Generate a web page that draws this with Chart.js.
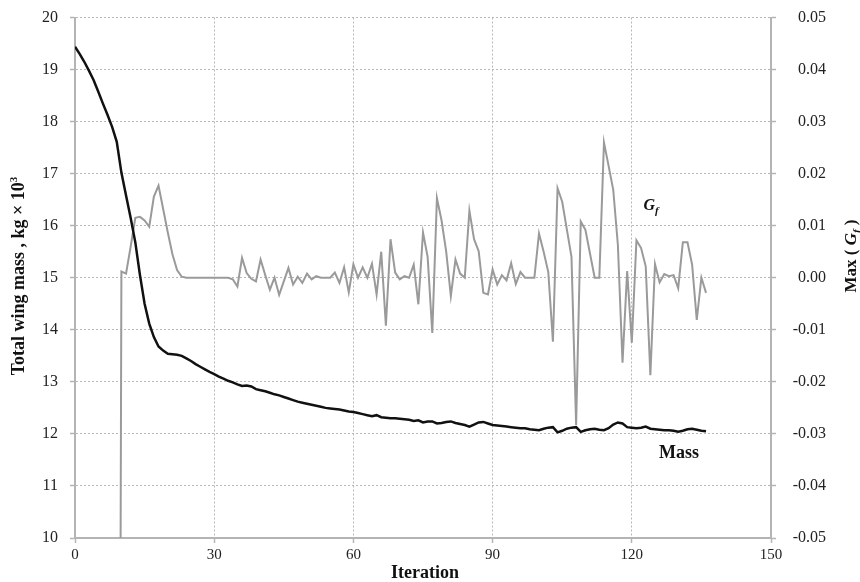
<!DOCTYPE html>
<html>
<head>
<meta charset="utf-8">
<script src="https://cdn.jsdelivr.net/npm/chart.js@4.4.1/dist/chart.umd.min.js"></script>
<style>
  html, body { margin: 0; padding: 0; background: #fff; }
</style>
</head>
<body>
<canvas id="massChart" width="860" height="582"></canvas>
<script>
// tick labels
const xTicks = [0, 30, 60, 90, 120, 150];
const massTicks = [10, 11, 12, 13, 14, 15, 16, 17, 18, 19, 20];
const gfTicks = [-0.05, -0.04, -0.03, -0.02, -0.01, 0, 0.01, 0.02, 0.03, 0.04, 0.05];

// total wing mass (kg x 10^3), iterations 0..136
const massStart = 0;
const massValues = [
  19.44, 19.30, 19.15, 18.98, 18.80, 18.58, 18.35, 18.13, 17.90, 17.61,
  17.02, 16.58, 16.15, 15.68, 15.05, 14.50, 14.12, 13.86, 13.68, 13.60,
  13.54, 13.53, 13.52, 13.50, 13.45, 13.40, 13.34, 13.29, 13.24, 13.19,
  13.15, 13.10, 13.06, 13.02, 12.99, 12.95, 12.92, 12.93, 12.91, 12.86,
  12.84, 12.82, 12.79, 12.76, 12.74, 12.71, 12.68, 12.65, 12.62, 12.60,
  12.58, 12.56, 12.54, 12.52, 12.50, 12.49, 12.48, 12.47, 12.45, 12.43,
  12.42, 12.40, 12.38, 12.36, 12.34, 12.36, 12.32, 12.31, 12.30, 12.30,
  12.29, 12.28, 12.27, 12.25, 12.26, 12.22, 12.24, 12.24, 12.20, 12.21,
  12.23, 12.24, 12.21, 12.19, 12.17, 12.14, 12.18, 12.22, 12.23, 12.20,
  12.17, 12.16, 12.15, 12.14, 12.13, 12.12, 12.11, 12.11, 12.09, 12.08,
  12.07, 12.10, 12.12, 12.13, 12.03, 12.06, 12.10, 12.12, 12.13, 12.04,
  12.07, 12.09, 12.10, 12.08, 12.07, 12.11, 12.18, 12.22, 12.20, 12.13,
  12.12, 12.11, 12.12, 12.14, 12.10, 12.09, 12.08, 12.07, 12.07, 12.06,
  12.04, 12.06, 12.09, 12.10, 12.08, 12.06, 12.05
];

// Max(Gf), iterations 9..136 (first value lies far below the axis)
const gfStart = 9;
const gfValues = [
  -0.3,
  0.0012, 0.0008, 0.0060, 0.0115, 0.0117, 0.0110, 0.0098, 0.0156, 0.0177, 0.0132,
  0.0087, 0.0045, 0.0015, 0.0002, 0, 0, 0, 0, 0, 0,
  0, 0, 0, 0, -0.0003, -0.0017, 0.0038, 0.0009, -0.0002, -0.0007,
  0.0035, 0.0005, -0.0023, 0, -0.0033, -0.0007, 0.0019, -0.0013, 0.0002, -0.0010,
  0.0008, -0.0003, 0.0003, 0, 0, 0, 0.0010, -0.0010, 0.0020, -0.0028,
  0.0026, 0, 0.0020, 0, 0.0027, -0.0032, 0.0050, -0.0092, 0.0074, 0.0010,
  -0.0003, 0.0003, 0, 0.0025, -0.0051, 0.0087, 0.0040, -0.0106, 0.0153, 0.0110,
  0.0050, -0.0035, 0.0035, 0.0008, 0, 0.0129, 0.0074, 0.0051, -0.0029, -0.0032,
  0.0016, -0.0013, 0.0005, -0.0005, 0.0028, -0.0012, 0.0011, 0, 0, 0,
  0.0085, 0.0050, 0.0011, -0.0123, 0.0172, 0.0146, 0.0093, 0.0040, -0.0283, 0.0108,
  0.0092, 0.0046, 0, 0, 0.0260, 0.0215, 0.0169, 0.0063, -0.0163, 0.0013,
  -0.0125, 0.0072, 0.0057, 0.0022, -0.0187, 0.0026, -0.0009, 0.0007, 0.0003, 0.0005,
  -0.0020, 0.0068, 0.0068, 0.0025, -0.0081, 0, -0.0029
];

const toPoints = (start, values) => values.map((v, i) => ({ x: start + i, y: v }));

const serif = 'Liberation Serif';
const axisGray = '#b4b4b4';
const gridGray = '#b8b8b8';

function drawRich(ctx, parts, x, y) {
  // draws text pieces side by side, centred on x, baseline y
  let total = 0;
  parts.forEach(p => { ctx.font = p.font; total += ctx.measureText(p.text).width; });
  let cx = x - total / 2;
  parts.forEach(p => {
    ctx.font = p.font;
    ctx.fillText(p.text, cx, y + (p.dy || 0));
    cx += ctx.measureText(p.text).width;
  });
}

const textPlugin = {
  id: 'textPlugin',
  beforeDraw(chart) {
    const ctx = chart.ctx;
    ctx.save();
    ctx.fillStyle = '#fff';
    ctx.fillRect(0, 0, chart.width, chart.height);
    ctx.restore();
  },
  afterDraw(chart) {
    const ctx = chart.ctx;
    ctx.save();
    ctx.fillStyle = '#111';
    ctx.textAlign = 'left';
    ctx.textBaseline = 'alphabetic';

    // left axis title
    ctx.save();
    ctx.translate(24, 276);
    ctx.rotate(-Math.PI / 2);
    drawRich(ctx, [
      { text: 'Total wing mass , kg × 10', font: `bold 18px "${serif}"` },
      { text: '3', font: `bold 11px "${serif}"`, dy: -7 }
    ], 0, 0);
    ctx.restore();

    // right axis title
    ctx.save();
    ctx.translate(856, 256);
    ctx.rotate(-Math.PI / 2);
    drawRich(ctx, [
      { text: 'Max ( ', font: `bold 17px "${serif}"` },
      { text: 'G', font: `bold italic 17px "${serif}"` },
      { text: 'f', font: `bold italic 11px "${serif}"`, dy: 4 },
      { text: ' )', font: `bold 17px "${serif}"` }
    ], 0, 0);
    ctx.restore();

    // x axis title
    drawRich(ctx, [{ text: 'Iteration', font: `bold 18px "${serif}"` }], 425, 578);

    // series labels
    drawRich(ctx, [
      { text: 'G', font: `bold italic 16px "${serif}"` },
      { text: 'f', font: `bold italic 11px "${serif}"`, dy: 4 }
    ], 651, 210);
    drawRich(ctx, [{ text: 'Mass', font: `bold 18px "${serif}"` }], 679, 458);
    ctx.restore();
  }
};

// keep the plot area fixed: no extra room for the end labels
const fixY = width => s => { s.width = width; s.paddingTop = 0; s.paddingBottom = 0; };

new Chart(document.getElementById('massChart').getContext('2d'), {
  type: 'line',
  data: {
    datasets: [
      {
        label: 'Mass',
        data: toPoints(massStart, massValues),
        yAxisID: 'yMass',
        borderColor: '#111',
        borderWidth: 2.5,
        pointRadius: 0,
        tension: 0
      },
      {
        label: 'Gf',
        data: toPoints(gfStart, gfValues),
        yAxisID: 'yGf',
        borderColor: '#9a9a9a',
        borderWidth: 2,
        pointRadius: 0,
        tension: 0
      }
    ]
  },
  options: {
    responsive: false,
    animation: false,
    layout: { padding: { top: 17.5, left: 0, right: 34, bottom: 0 } },
    plugins: {
      legend: { display: false },
      tooltip: { enabled: false }
    },
    scales: {
      x: {
        type: 'linear',
        min: 0,
        max: 150,
        afterBuildTicks: s => { s.ticks = xTicks.map(v => ({ value: v })); },
        afterFit: s => { s.height = 44; },
        ticks: { color: '#222', font: { family: serif, size: 15 }, padding: 3, maxRotation: 0 },
        grid: { color: gridGray, lineWidth: 1, tickLength: 5, tickColor: axisGray, tickWidth: 1.5 },
        border: { color: axisGray, width: 2, dash: [2, 2] }
      },
      yMass: {
        position: 'left',
        min: 10,
        max: 20,
        afterBuildTicks: s => { s.ticks = massTicks.map(v => ({ value: v })); },
        afterFit: fixY(75),
        ticks: { color: '#222', font: { family: serif, size: 16 }, padding: 12 },
        grid: { color: gridGray, lineWidth: 1, tickLength: 5, tickColor: axisGray, tickWidth: 1.5 },
        border: { color: axisGray, width: 2, dash: [2, 2] }
      },
      yGf: {
        position: 'right',
        min: -0.05,
        max: 0.05,
        afterBuildTicks: s => { s.ticks = gfTicks.map(v => ({ value: v })); },
        afterFit: fixY(55),
        ticks: {
          color: '#222',
          font: { family: serif, size: 16 },
          padding: 16,
          crossAlign: 'far',
          callback: v => (Math.abs(v) < 1e-9 ? '0.00' : v.toFixed(2))
        },
        grid: { drawOnChartArea: false, tickLength: 5, tickColor: axisGray, tickWidth: 1.5 },
        border: { color: axisGray, width: 2 }
      }
    }
  },
  plugins: [textPlugin]
});
</script>
</body>
</html>
